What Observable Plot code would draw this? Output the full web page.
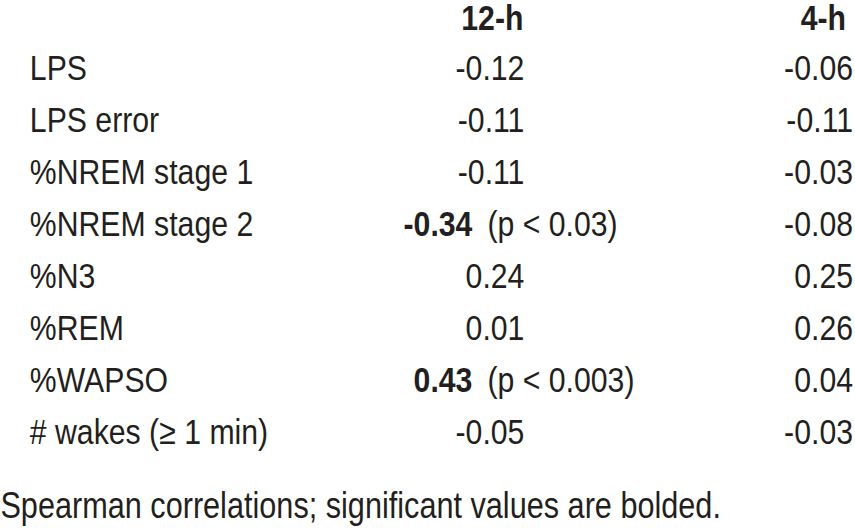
<!DOCTYPE html>
<html>
<head>
<meta charset="utf-8">
<script src="https://cdn.jsdelivr.net/npm/d3@7"></script>
<script src="https://cdn.jsdelivr.net/npm/@observablehq/plot@0.6"></script>
<style>
  html, body { margin: 0; padding: 0; background: #fff; }
  svg { display: block; }
</style>
</head>
<body>
<div id="chart"></div>
<script>
// ---- data ----
const columns = ["12-h", "4-h"];
const rows = ["LPS", "LPS error", "%NREM stage 1", "%NREM stage 2", "%N3", "%REM", "%WAPSO", "# wakes (\u2265 1 min)"];
const r12h = [-0.12, -0.11, -0.11, -0.34, 0.24, 0.01, 0.43, -0.05];
const p12h = [null, null, null, "0.03", null, null, "0.003", null];
const r4h = [-0.06, -0.11, -0.03, -0.08, 0.25, 0.26, 0.04, -0.03];
const captionText = "Spearman correlations; significant values are bolded.";

// ---- table built from arrays ----
const fmt = v => (v < 0 ? "-" : "") + Math.abs(v).toFixed(2);
const cells = [];
rows.forEach((r, i) => {
  cells.push({row: r, col: "12-h", value: r12h[i], p: p12h[i]});
  cells.push({row: r, col: "4-h", value: r4h[i], p: null});
});
const plain = cells.filter(d => d.p == null);
const signif = cells.filter(d => d.p != null);

// Arial-Narrow look: draw with an Arial-metric font and condense horizontally
const SX = 0.84;
const W = 855 / SX, H = 528;
const px = v => v / SX;   // screen-pixel offset -> plot units
const FONT = "'Liberation Sans', Arial, Helvetica, sans-serif";
const INK = "#231f20";
const FS = 36;

const chart = Plot.plot({
  width: W,
  height: H,
  margin: 0,
  style: {fontFamily: FONT, fontSize: FS + "px", color: INK, background: "#fff"},
  x: {type: "point", domain: ["label", ...columns], range: [px(29), px(853)], padding: 0, axis: null},
  y: {type: "point", domain: rows, range: [66, 433], padding: 0, axis: null},
  marks: [
    // header
    Plot.text(columns.filter(c => c === "12-h"), {
      x: d => d, frameAnchor: "top", dy: 18, lineAnchor: "middle",
      text: d => d, textAnchor: "end", fontWeight: "bold", fontSize: FS, fill: INK, dx: px(82)
    }),
    Plot.text(columns.filter(c => c === "4-h"), {
      x: d => d, frameAnchor: "top", dy: 18, lineAnchor: "middle",
      text: d => d, textAnchor: "end", fontWeight: "bold", fontSize: FS, fill: INK, dx: px(-7)
    }),
    // row labels
    Plot.text(rows, {
      x: () => "label", y: d => d, text: d => d, textAnchor: "start",
      fontSize: FS, fill: INK
    }),
    // plain values, 12-h column
    Plot.text(plain.filter(d => d.col === "12-h"), {
      x: "col", y: "row", text: d => fmt(d.value), textAnchor: "end",
      dx: px(83), fontSize: FS, fill: INK
    }),
    // plain values, 4-h column
    Plot.text(plain.filter(d => d.col === "4-h"), {
      x: "col", y: "row", text: d => fmt(d.value), textAnchor: "end",
      fontSize: FS, fill: INK
    }),
    // significant values (bold) + p-values
    Plot.text(signif, {
      x: "col", y: "row", text: d => fmt(d.value), textAnchor: "end",
      dx: px(31), fontWeight: "bold", fontSize: FS, fill: INK
    }),
    Plot.text(signif, {
      x: "col", y: "row", text: d => `(p < ${d.p})`, textAnchor: "start",
      dx: px(46), fontSize: FS, fill: INK
    }),
    // caption
    Plot.text([captionText], {
      frameAnchor: "bottom-left", text: d => d, textAnchor: "start",
      dy: -22, lineAnchor: "middle", fontSize: 36.5, fill: INK
    })
  ]
});
chart.setAttribute("width", 855);
chart.setAttribute("height", 528);
chart.setAttribute("preserveAspectRatio", "none");
chart.style.width = "855px";
chart.style.height = "528px";
chart.style.maxWidth = "none";
document.getElementById("chart").append(chart);
</script>
</body>
</html>
